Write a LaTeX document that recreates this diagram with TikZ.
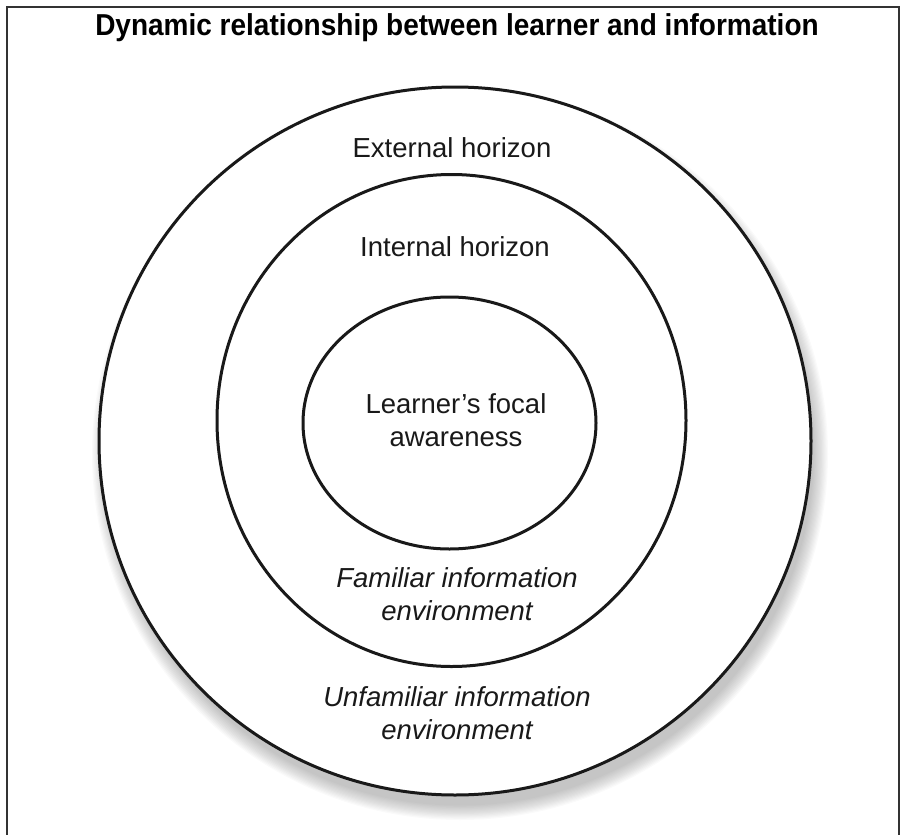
\documentclass[tikz,border=0pt]{standalone}
\usepackage{fontspec}
\setmainfont{Liberation Sans}
\usetikzlibrary{shapes.geometric}
\tikzset{
  ring/.style={draw=black!90, line width=3pt, ellipse, inner sep=0pt, fill=white},
  lbl/.style={font=\fontsize{27.5}{33}\selectfont, align=center, inner sep=0pt, text=black!90},
  ilbl/.style={lbl, font=\fontsize{27.5}{33}\selectfont\itshape},
}
\begin{document}
\begin{tikzpicture}[x=1pt,y=-1pt]
\useasboundingbox (0,0) rectangle (900,835);
\draw[line width=2pt, black!80] (6.5,840) -- (6.5,7) -- (898.5,7) -- (898.5,840);
\node[font=\bfseries\fontsize{28}{30}\selectfont, inner sep=0pt, yscale=1.08] (title) at (457,28) {Dynamic relationship between learner and information};
% soft shadow
\foreach \k in {0,...,12}{
  \fill[black, opacity=0.02] (460,454) ellipse ({356+12-1.2*\k} and {354+12-1.2*\k});
}
\node[ring, minimum width=712pt, minimum height=708pt] (outer) at (455,441) {};
\node[ring, minimum width=469pt, minimum height=492pt] (middle) at (451.5,420.5) {};
\node[ring, minimum width=293pt, minimum height=252pt] (inner) at (449.5,423) {};
\node[lbl] (ext) at (452,148) {External horizon};
\node[lbl] (int) at (455,247) {Internal horizon};
\node[lbl] (focal) at (456,420) {Learner’s focal\\awareness};
\node[ilbl] (fam) at (457,594.5) {Familiar information\\environment};
\node[ilbl] (unfam) at (457,713) {Unfamiliar information\\environment};
\end{tikzpicture}
\end{document}
